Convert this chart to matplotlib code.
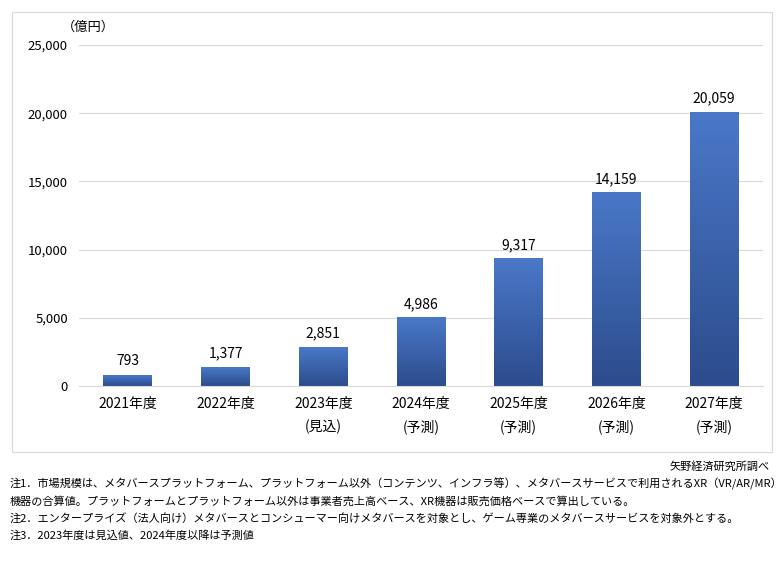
import numpy as np
import matplotlib
matplotlib.use("Agg")
import matplotlib.pyplot as plt
from matplotlib.patches import Rectangle

plt.rcParams["font.family"] = "Noto Sans CJK JP"

categories = ["2021年度", "2022年度", "2023年度\n(見込)", "2024年度\n(予測)",
              "2025年度\n(予測)", "2026年度\n(予測)", "2027年度\n(予測)"]
values = [793, 1377, 2851, 4986, 9317, 14159, 20059]
yticks = [0, 5000, 10000, 15000, 20000, 25000]
notes = [
    "注1．市場規模は、メタバースプラットフォーム、プラットフォーム以外（コンテンツ、インフラ等）、メタバースサービスで利用されるXR（VR/AR/MR）",
    "機器の合算値。プラットフォームとプラットフォーム以外は事業者売上高ベース、XR機器は販売価格ベースで算出している。",
    "注2．エンタープライズ（法人向け）メタバースとコンシューマー向けメタバースを対象とし、ゲーム専業のメタバースサービスを対象外とする。",
    "注3．2023年度は見込値、2024年度以降は予測値",
]

fig = plt.figure(figsize=(7.84, 5.61), dpi=100)
fig.patches.append(Rectangle((12 / 784, 1 - 452 / 561), 760 / 784, 440 / 561,
                             transform=fig.transFigure, fill=False,
                             edgecolor="#d9d9d9", linewidth=0.8))
ax = fig.add_axes([79 / 784, 1 - 386 / 561, 684 / 784, 341 / 561])

x = np.arange(len(values))
width = 0.5
grad = np.linspace(0, 1, 256).reshape(-1, 1)
cmap = matplotlib.colors.LinearSegmentedColormap.from_list("g", ["#2c4c8c", "#4a78c8"])
for xi, v in zip(x, values):
    ax.imshow(grad, extent=(xi - width / 2, xi + width / 2, 0, v), origin="lower",
              cmap=cmap, aspect="auto", zorder=2)
    ax.text(xi, v + 500, f"{v:,}", ha="center", va="bottom", fontsize=10)

ax.set_xlim(-0.5, len(values) - 0.5)
ax.set_ylim(0, 25000)
ax.set_yticks(yticks)
ax.set_yticklabels([f"{t:,}" for t in yticks], fontsize=9.5)
ax.set_xticks(x)
ax.set_xticklabels(categories, fontsize=10, linespacing=1.7)
ax.tick_params(length=0, pad=8)
ax.grid(axis="y", color="#d9d9d9", linewidth=0.8, zorder=0)
for s in ["top", "right", "left"]:
    ax.spines[s].set_visible(False)
ax.spines["bottom"].set_color("#d9d9d9")
ax.set_axisbelow(True)
fig.text(62 / 784, 1 - 27 / 561, "（億円）", fontsize=9.5, va="center")

fig.text(770 / 784, 1 - 467 / 561, "矢野経済研究所調べ", fontsize=8, ha="right", va="center")
for i, line in enumerate(notes):
    fig.text(10 / 784, 1 - (484 + i * 17) / 561, line, fontsize=8, va="center")

fig.savefig("out.png", dpi=100)
